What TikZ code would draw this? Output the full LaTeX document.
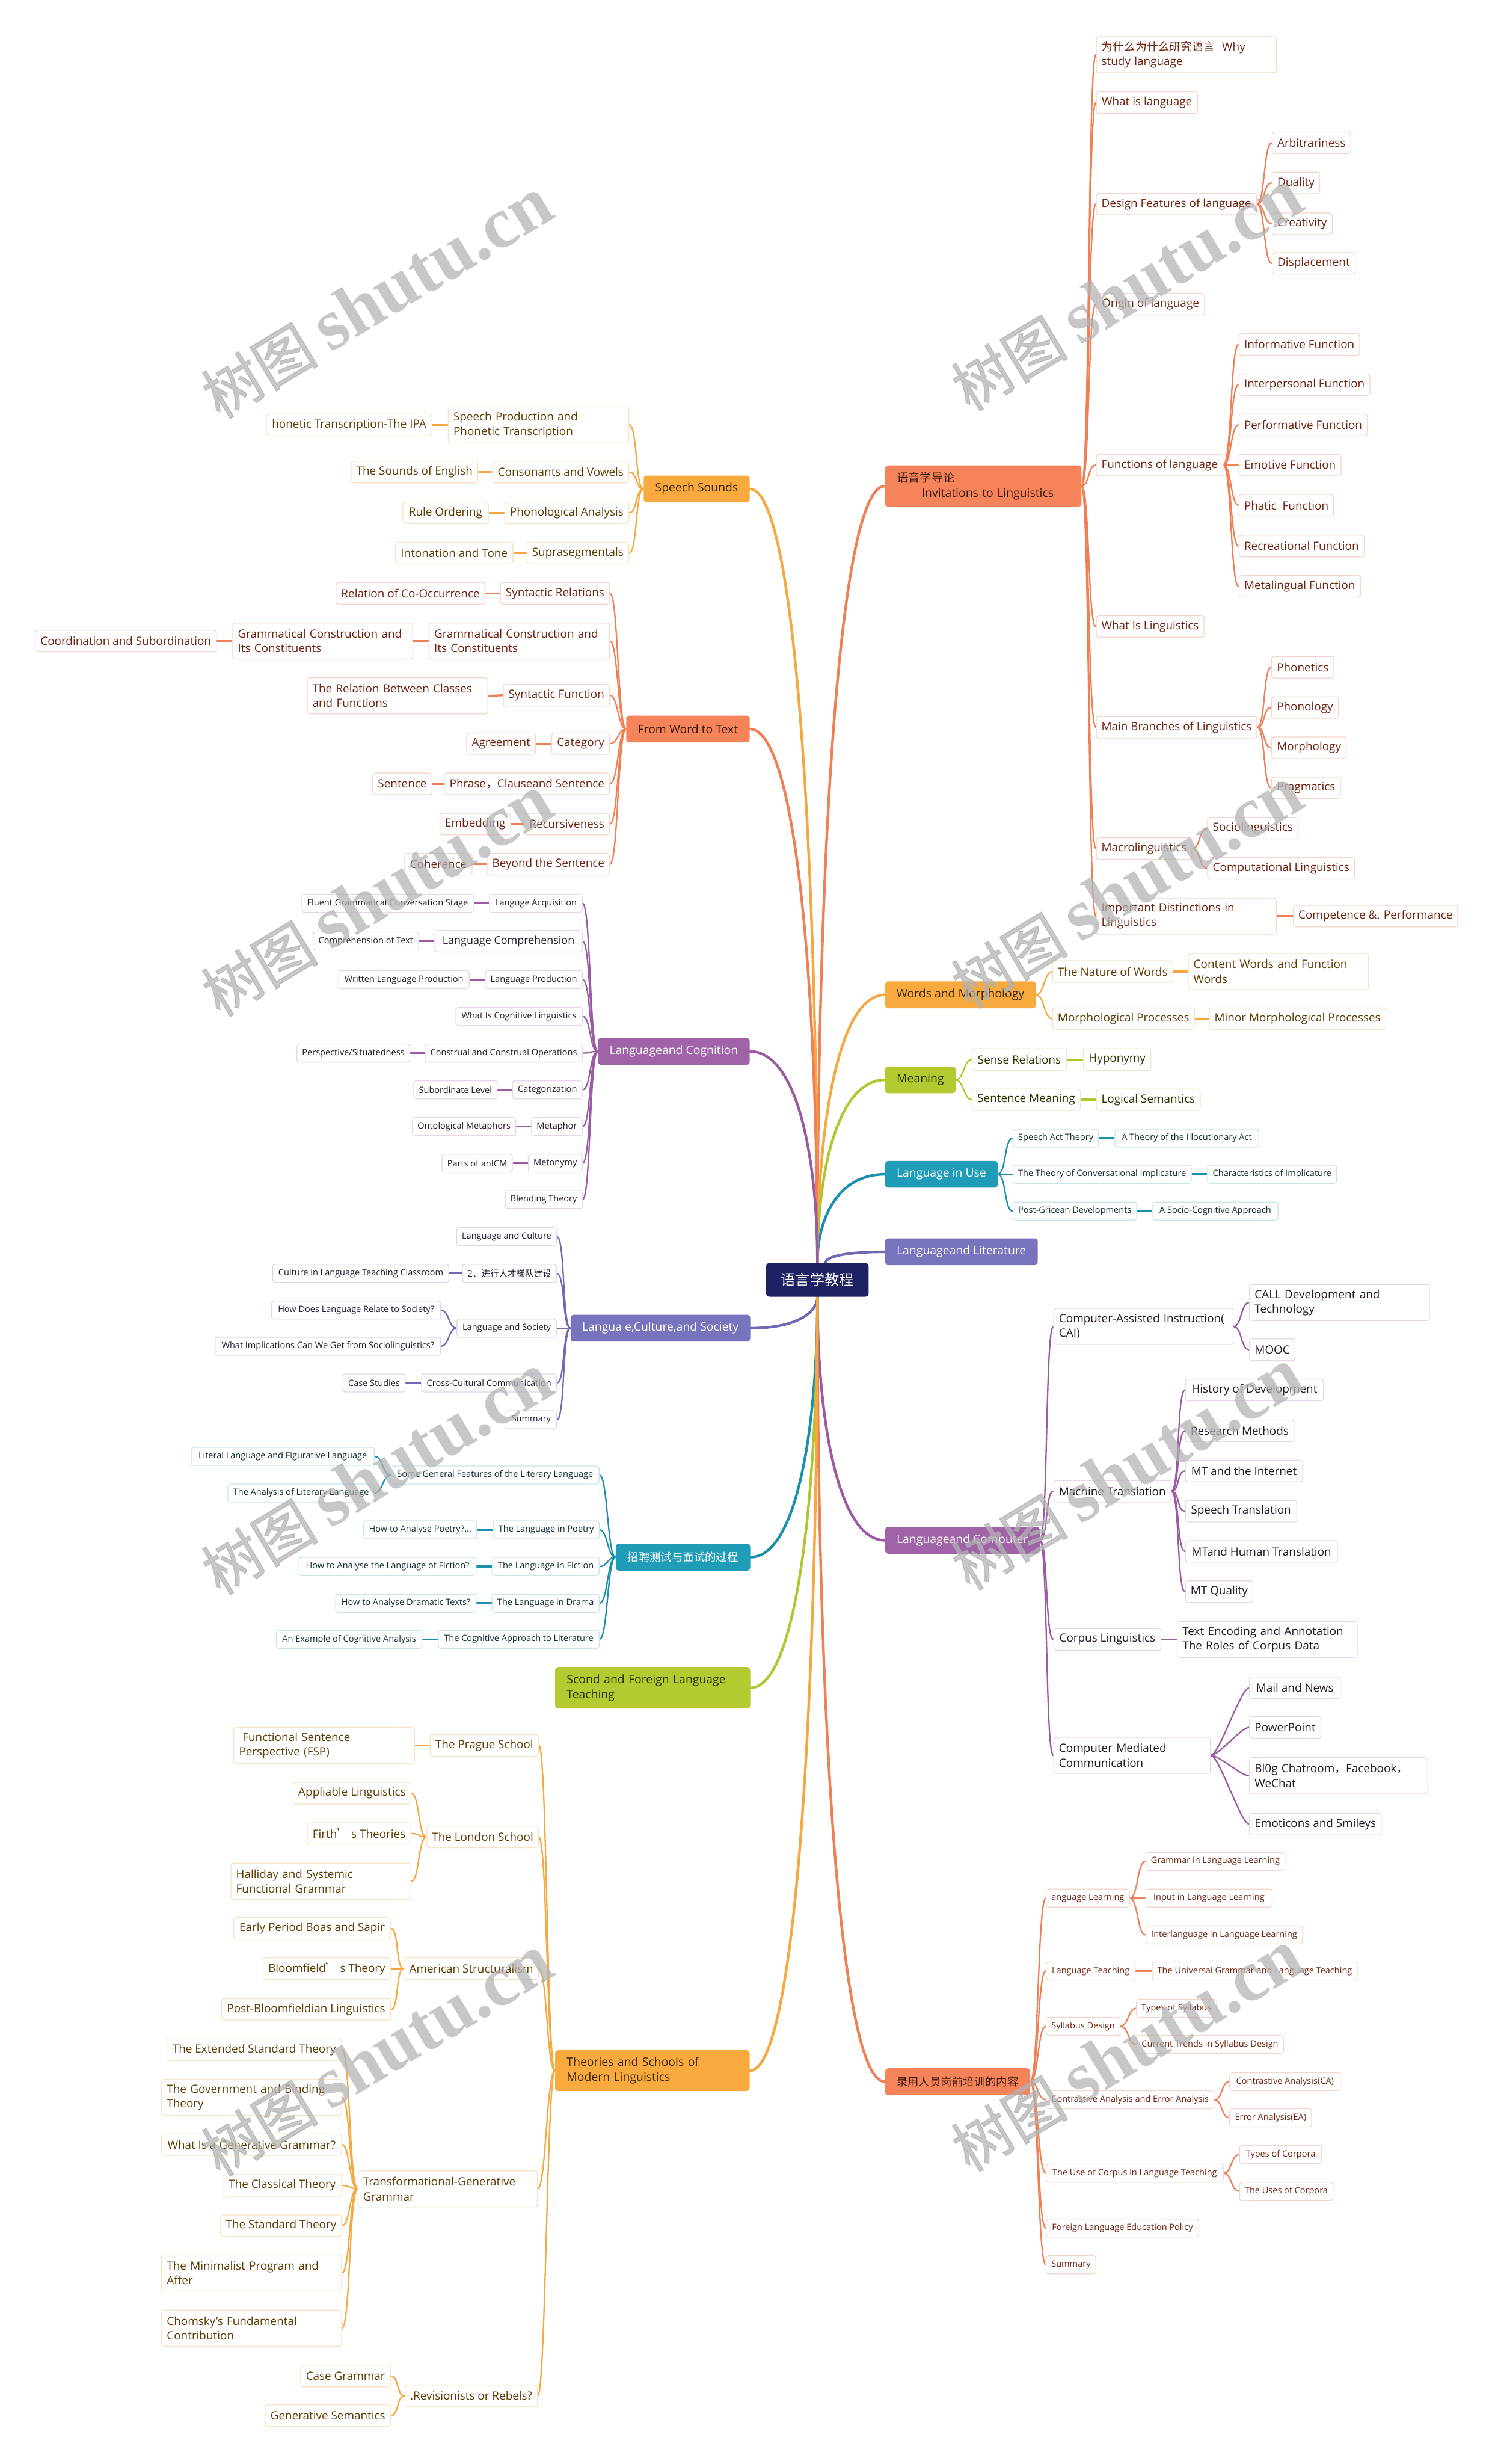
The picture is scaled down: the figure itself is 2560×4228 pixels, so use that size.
\documentclass[tikz,border=0pt]{standalone}
\usepackage{fontspec}
\setmainfont{Open Sans}
\newfontfamily\cjk{Noto Sans CJK SC}
\newfontfamily\cjkwm[FakeBold=1.5]{Noto Sans CJK SC}
\newfontfamily\wmserif{Liberation Serif}
\definecolor{cRoot}{HTML}{1E2163}
\definecolor{cCor}{HTML}{F5845B}\definecolor{cCorL}{HTML}{EF7F55}\definecolor{cCorB}{HTML}{F6D6CA}\definecolor{cCorT}{HTML}{6E2410}\definecolor{cCorD}{HTML}{3A1608}
\definecolor{cOr}{HTML}{F9AA3E}\definecolor{cOrL}{HTML}{F4A83F}\definecolor{cOrB}{HTML}{F8E3C4}\definecolor{cOrT}{HTML}{5E3C05}\definecolor{cOrD}{HTML}{3A2605}
\definecolor{cGr}{HTML}{B5C930}\definecolor{cGrL}{HTML}{B1C630}\definecolor{cGrB}{HTML}{E4EAC4}\definecolor{cGrT}{HTML}{2F3300}\definecolor{cGrD}{HTML}{2A3000}
\definecolor{cTe}{HTML}{1E9CB8}\definecolor{cTeL}{HTML}{1B8FAE}\definecolor{cTeB}{HTML}{C9E5EE}\definecolor{cTeT}{HTML}{102A34}
\definecolor{cPe}{HTML}{7873BD}\definecolor{cPeL}{HTML}{6F69B3}\definecolor{cPeB}{HTML}{DAD8EE}\definecolor{cPeT}{HTML}{1E1E36}
\definecolor{cPu}{HTML}{A063A8}\definecolor{cPuL}{HTML}{9C5AA3}\definecolor{cPuB}{HTML}{E7D6E9}\definecolor{cPuT}{HTML}{26182A}
\pgfdeclarelayer{back}\pgfdeclarelayer{front}\pgfsetlayers{back,main,front}
\newcommand\nodeR[6]{\node[#1,anchor=west,minimum width=#5pt] (#2) at (#3,#4) {#6};}
\newcommand\nodeL[6]{\node[#1,anchor=east,minimum width=#5pt] (#2) at (#3,#4) {#6};}
\newcommand\nodeRm[6]{\node[#1,anchor=west,text width=#5pt] (#2) at (#3,#4) {#6};}
\newcommand\nodeLm[6]{\node[#1,anchor=east,text width=#5pt] (#2) at (#3,#4) {#6};}
\newcommand\lkR[3]{\draw[#1,lw] (#2.east) .. controls +(14,0) and +(-14,0) .. (#3.west);}
\newcommand\lkL[3]{\draw[#1,lw] (#2.west) .. controls +(-14,0) and +(14,0) .. (#3.east);}
\newcommand\stR[3]{\draw[#1,lws] (#2.east) -- (#3.west);}
\newcommand\stL[3]{\draw[#1,lws] (#2.west) -- (#3.east);}
\tikzset{
  bx/.style={rounded corners=4pt, fill=white, line width=1.3pt, inner xsep=9pt, inner ysep=0pt, align=left},
  bg/.style={bx, font=\fontsize{19.5}{25}\selectfont, minimum height=37pt},
  bgtwo/.style={bx, font=\fontsize{19.5}{25}\selectfont, minimum height=62pt},
  sm/.style={bx, font=\fontsize{15}{19}\selectfont, minimum height=31pt},
  mn/.style={rounded corners=5pt, inner xsep=20pt, inner ysep=0pt, minimum height=46pt, font=\fontsize{20}{26}\selectfont, align=left},
  kCor/.style={draw=cCorB, text=cCorT}, kOr/.style={draw=cOrB, text=cOrT}, kGr/.style={draw=cGrB, text=cGrT},
  kTe/.style={draw=cTeB, text=cTeT}, kPe/.style={draw=cPeB, text=cPeT}, kPu/.style={draw=cPuB, text=cPuT},
  lw/.style={line width=2.4pt, line cap=round}, lws/.style={line width=3.4pt}, lwm/.style={line width=4.5pt, line cap=round},
  wm/.style={rotate=31, text=black!30, text opacity=0.72, inner sep=0pt}
}
\begin{document}
\begin{tikzpicture}[x=1pt,y=-1pt]
\begin{pgfonlayer}{back}
\fill[white] (0,0) rectangle (2560,4228);
\end{pgfonlayer}
\useasboundingbox (0,0) rectangle (2560,4228);
% root
\node[fill=cRoot, text=white, rounded corners=6pt, minimum width=176pt, minimum height=58pt, inner sep=0pt, font=\cjk\fontsize{25}{30}\selectfont] (root) at (1403,2196) {语言学教程};
% ===== main branches =====
\node[mn, fill=cCor, text=cCorD, anchor=west, text width=297pt, minimum height=71pt] (A) at (1519,834) {{\cjk 语音学导论}\\\hspace*{43pt}Invitations to Linguistics};
\node[mn, fill=cOr, text=cOrD, anchor=west, minimum width=258pt] (B) at (1519,1707) {Words and Morphology};
\node[mn, fill=cGr, text=cGrD, anchor=west, minimum width=121pt] (C) at (1519,1853) {Meaning};
\node[mn, fill=cTe, text=white, anchor=west, minimum width=191pt] (D) at (1519,2015) {Language in Use};
\node[mn, fill=cPe, text=white, anchor=west, minimum width=255pt] (E) at (1519,2148) {Languageand Literature};
\node[mn, fill=cPu, text=white, anchor=west, minimum width=260pt] (F) at (1519,2643) {Languageand Computer};
\node[mn, fill=cCor, text=cCorD, anchor=west, minimum width=248pt, font=\cjk\fontsize{19}{24}\selectfont] (G) at (1519,3572) {录用人员岗前培训的内容};
\node[mn, fill=cOr, text=cOrD, anchor=east, minimum width=180pt] (H) at (1287,839) {Speech Sounds};
\node[mn, fill=cCor, text=cCorD, anchor=east, minimum width=212pt] (I) at (1287,1251) {From Word to Text};
\node[mn, fill=cPu, text=white, anchor=east, minimum width=258pt] (J) at (1287,1804) {Languageand Cognition};
\node[mn, fill=cPe, text=white, anchor=east, minimum width=304pt] (K) at (1288,2279) {Langua e,Culture,and Society};
\node[mn, fill=cTe, text=white, anchor=east, minimum width=231pt, font=\cjk\fontsize{19}{24}\selectfont] (L) at (1288,2672) {招聘测试与面试的过程};
\node[mn, fill=cGr, text=cGrD, anchor=east, text width=295pt, minimum height=71pt] (M) at (1288,2896) {Scond and Foreign Language\\Teaching};
\node[mn, fill=cOr, text=cOrD, anchor=east, text width=294pt, minimum height=70pt] (N) at (1287,3553) {Theories and Schools of\\Modern Linguistics};
% ===== A =====
\nodeRm{bgtwo,kCor}{a1}{1881}{94}{291}{{\cjk 为什么为什么研究语言}\hspace{12pt}Why\\study language}
\nodeR{bg,kCor}{a2}{1881}{176}{174}{What is language}
\nodeR{bg,kCor}{a3}{1881}{350}{275}{Design Features of language}
\nodeR{bg,kCor}{a3a}{2183}{245}{131}{Arbitrariness}
\nodeR{bg,kCor}{a3b}{2183}{314}{80}{Duality}
\nodeR{bg,kCor}{a3c}{2183}{384}{101}{Creativity}
\nodeR{bg,kCor}{a3d}{2183}{452}{139}{Displacement}
\nodeR{bg,kCor}{a4}{1881}{522}{186}{Origin of language}
\nodeR{bg,kCor}{a5}{1881}{798}{217}{Functions of language}
\nodeR{bg,kCor}{a5a}{2126}{591}{204}{Informative Function}
\nodeR{bg,kCor}{a5b}{2126}{660}{220}{Interpersonal Function}
\nodeR{bg,kCor}{a5c}{2126}{729}{216}{Performative Function}
\nodeR{bg,kCor}{a5d}{2126}{798}{173}{Emotive Function}
\nodeR{bg,kCor}{a5e}{2126}{867}{161}{Phatic\ \ Function}
\nodeR{bg,kCor}{a5f}{2126}{937}{212}{Recreational Function}
\nodeR{bg,kCor}{a5g}{2126}{1006}{208}{Metalingual Function}
\nodeR{bg,kCor}{a6}{1881}{1075}{184}{What Is Linguistics}
\nodeR{bg,kCor}{a7}{1881}{1248}{272}{Main Branches of Linguistics}
\nodeR{bg,kCor}{a7a}{2182}{1145}{104}{Phonetics}
\nodeR{bg,kCor}{a7b}{2182}{1214}{114}{Phonology}
\nodeR{bg,kCor}{a7c}{2182}{1283}{128}{Morphology}
\nodeR{bg,kCor}{a7d}{2182}{1352}{115}{Pragmatics}
\nodeR{bg,kCor}{a8}{1881}{1456}{163}{Macrolinguistics}
\nodeR{bg,kCor}{a8a}{2072}{1421}{155}{Sociolinguistics}
\nodeR{bg,kCor}{a8b}{2072}{1490}{250}{Computational Linguistics}
\nodeRm{bgtwo,kCor}{a9}{1881}{1572}{291}{Important Distinctions in\\Linguistics}
\nodeR{bg,kCor}{a9a}{2219}{1572}{278}{Competence \&. Performance}
% ===== B =====
\nodeR{bg,kOr}{b1}{1806}{1667}{204}{The Nature of Words}
\nodeRm{bgtwo,kOr}{b1a}{2039}{1667}{291}{Content Words and Function\\Words}
\nodeR{bg,kOr}{b2}{1806}{1748}{240}{Morphological Processes}
\nodeR{bg,kOr}{b2a}{2075}{1748}{301}{Minor Morphological Processes}
% ===== C =====
\nodeR{bg,kGr}{c1}{1668}{1818}{162}{Sense Relations}
\nodeR{bg,kGr}{c1a}{1859}{1818}{112}{Hyponymy}
\nodeR{bg,kGr}{c2}{1668}{1887}{184}{Sentence Meaning}
\nodeR{bg,kGr}{c2a}{1881}{1887}{175}{Logical Semantics}
% ===== D =====
\nodeR{sm,kTe}{d1}{1738}{1953}{147}{Speech Act Theory}
\nodeR{sm,kTe}{d1a}{1913}{1953}{247}{A Theory of the Illocutionary Act}
\nodeR{sm,kTe}{d2}{1738}{2015}{305}{The Theory of Conversational Implicature}
\nodeR{sm,kTe}{d2a}{2072}{2015}{219}{Characteristics of Implicature}
\nodeR{sm,kTe}{d3}{1738}{2078}{212}{Post-Gricean Developments}
\nodeR{sm,kTe}{d3a}{1978}{2078}{215}{A Socio-Cognitive Approach}
% ===== F =====
\nodeRm{bgtwo,kPu}{f1}{1808}{2276}{290}{Computer-Assisted Instruction(\\CAI)}
\nodeRm{bgtwo,kPu}{f1a}{2144}{2235}{291}{CALL Development and\\Technology}
\nodeR{bg,kPu}{f1b}{2144}{2316}{78}{MOOC}
\nodeR{bg,kPu}{f2}{1808}{2559}{198}{Machine Translation}
\nodeR{bg,kPu}{f2a}{2034}{2385}{237}{History of Development}
\nodeR{bg,kPu}{f2b}{2034}{2455}{183}{Research Methods}
\nodeR{bg,kPu}{f2c}{2034}{2524}{201}{MT and the Internet}
\nodeR{bg,kPu}{f2d}{2034}{2593}{191}{Speech Translation}
\nodeR{bg,kPu}{f2e}{2034}{2662}{261}{MTand Human Translation}
\nodeR{bg,kPu}{f2f}{2034}{2731}{115}{MT Quality}
\nodeR{bg,kPu}{f3}{1808}{2813}{184}{Corpus Linguistics}
\nodeRm{bgtwo,kPu}{f3a}{2020}{2813}{291}{Text Encoding and Annotation\\The Roles of Corpus Data}
\nodeRm{bgtwo,kPu}{f4}{1808}{3012}{251}{Computer Mediated\\Communication}
\nodeR{bg,kPu}{f4a}{2144}{2896}{156}{Mail and News}
\nodeR{bg,kPu}{f4b}{2144}{2964}{120}{PowerPoint}
\nodeRm{bgtwo,kPu}{f4c}{2144}{3047}{288}{Bl0g Chatroom{\cjk ，}Facebook{\cjk ，}\\WeChat}
\nodeR{bg,kPu}{f4d}{2144}{3130}{224}{Emoticons and Smileys}
% ===== G =====
\nodeR{sm,kCor}{g1}{1795}{3257}{143}{anguage Learning}
\nodeR{sm,kCor}{g1a}{1966}{3194}{237}{Grammar in Language Learning}
\nodeR{sm,kCor}{g1b}{1966}{3257}{217}{Input in Language Learning}
\nodeR{sm,kCor}{g1c}{1966}{3320}{269}{Interlanguage in Language Learning}
\nodeR{sm,kCor}{g2}{1795}{3382}{153}{Language Teaching}
\nodeR{sm,kCor}{g2a}{1977}{3382}{351}{The Universal Grammar and Language Teaching}
\nodeR{sm,kCor}{g3}{1795}{3477}{126}{Syllabus Design}
\nodeR{sm,kCor}{g3a}{1950}{3446}{136}{Types of Syllabus}
\nodeR{sm,kCor}{g3b}{1950}{3508}{252}{Current Trends in Syllabus Design}
\nodeR{sm,kCor}{g4}{1795}{3603}{286}{Contrastive Analysis and Error Analysis}
\nodeR{sm,kCor}{g4a}{2110}{3572}{190}{Contrastive Analysis(CA)}
\nodeR{sm,kCor}{g4b}{2110}{3634}{139}{Error Analysis(EA)}
\nodeR{sm,kCor}{g5}{1795}{3729}{304}{The Use of Corpus in Language Teaching}
\nodeR{sm,kCor}{g5a}{2127}{3697}{141}{Types of Corpora}
\nodeR{sm,kCor}{g5b}{2127}{3760}{159}{The Uses of Corpora}
\nodeR{sm,kCor}{g6}{1795}{3823}{262}{Foreign Language Education Policy}
\nodeR{sm,kCor}{g7}{1795}{3886}{82}{Summary}
% ===== H =====
\nodeLm{bgtwo,kOr}{h1}{1080}{729}{292}{Speech Production and\\Phonetic Transcription}
\nodeL{bg,kOr}{h1a}{742}{729}{284}{honetic Transcription-The IPA}
\nodeL{bg,kOr}{h2}{1080}{810}{232}{Consonants and Vowels}
\nodeL{bg,kOr}{h2a}{821}{810}{217}{The Sounds of English}
\nodeL{bg,kOr}{h3}{1080}{880}{212}{Phonological Analysis}
\nodeL{bg,kOr}{h3a}{839}{880}{147}{Rule Ordering}
\nodeL{bg,kOr}{h4}{1080}{949}{171}{Suprasegmentals}
\nodeL{bg,kOr}{h4a}{881}{949}{199}{Intonation and Tone}
% ===== I =====
\nodeL{bg,kCor}{i1}{1047}{1018}{186}{Syntactic Relations}
\nodeL{bg,kCor}{i1a}{833}{1018}{255}{Relation of Co-Occurrence}
\nodeLm{bgtwo,kCor}{i2}{1047}{1100}{292}{Grammatical Construction and\\Its Constituents}
\nodeLm{bgtwo,kCor}{i2a}{709}{1100}{291}{Grammatical Construction and\\Its Constituents}
\nodeL{bg,kCor}{i2b}{372}{1100}{310}{Coordination and Subordination}
\nodeL{bg,kCor}{i3}{1047}{1193}{181}{Syntactic Function}
\nodeLm{bgtwo,kCor}{i3a}{838}{1194}{292}{The Relation Between Classes\\and Functions}
\nodeL{bg,kCor}{i4}{1047}{1276}{98}{Category}
\nodeL{bg,kCor}{i4a}{920}{1276}{117}{Agreement}
\nodeL{bg,kCor}{i5}{1047}{1345}{277}{Phrase{\cjk ，}Clauseand Sentence}
\nodeL{bg,kCor}{i5a}{742}{1345}{98}{Sentence}
\nodeL{bg,kCor}{i6}{1047}{1414}{142}{Recursiveness}
\nodeL{bg,kCor}{i6a}{877}{1414}{120}{Embedding}
\nodeL{bg,kCor}{i7}{1047}{1483}{209}{Beyond the Sentence}
\nodeL{bg,kCor}{i7a}{811}{1483}{112}{Coherence}
% ===== J =====
\nodeL{sm,kPu}{j1}{1000}{1550}{159}{Languge Acquisition}
\nodeL{sm,kPu}{j1a}{813}{1550}{294}{Fluent Grammatical Conversation Stage}
\nodeL{sm,kPu,font=\fontsize{18.5}{23}\selectfont,minimum height=37pt}{j2}{1000}{1615}{253}{Language Comprehension}
\nodeL{sm,kPu}{j2a}{719}{1615}{181}{Comprehension of Text}
\nodeL{sm,kPu}{j3}{1000}{1681}{166}{Language Production}
\nodeL{sm,kPu}{j3a}{806}{1681}{224}{Written Language Production}
\nodeL{sm,kPu}{j4}{1000}{1744}{217}{What Is Cognitive Linguistics}
\nodeL{sm,kPu}{j5}{1000}{1807}{267}{Construal and Construal Operations}
\nodeL{sm,kPu}{j5a}{704}{1807}{190}{Perspective/Situatedness}
\nodeL{sm,kPu}{j6}{1000}{1870}{118}{Categorization}
\nodeL{sm,kPu}{j6a}{854}{1870}{142}{Subordinate Level}
\nodeL{sm,kPu}{j7}{1000}{1933}{85}{Metaphor}
\nodeL{sm,kPu}{j7a}{886}{1933}{177}{Ontological Metaphors}
\nodeL{sm,kPu}{j8}{1000}{1996}{91}{Metonymy}
\nodeL{sm,kPu}{j8a}{880}{1996}{119}{Parts of anICM}
\nodeL{sm,kPu}{j9}{1000}{2058}{129}{Blending Theory}
% ===== K =====
\nodeL{sm,kPe}{k1}{956}{2122}{171}{Language and Culture}
\nodeL{sm,kPe}{k2}{956}{2185}{156}{2{\cjk 、进行人才梯队建设}}
\nodeL{sm,kPe}{k2a}{771}{2185}{302}{Culture in Language Teaching Classroom}
\nodeL{sm,kPe}{k3}{956}{2279}{171}{Language and Society}
\nodeL{sm,kPe}{k3a}{757}{2248}{290}{How Does Language Relate to Society?}
\nodeL{sm,kPe}{k3b}{757}{2310}{387}{What Implications Can We Get from Sociolinguistics?}
\nodeL{sm,kPe}{k4}{956}{2373}{231}{Cross-Cultural Communication}
\nodeL{sm,kPe}{k4a}{696}{2373}{104}{Case Studies}
\nodeL{sm,kPe}{k5}{956}{2436}{87}{Summary}
% ===== L =====
\nodeL{sm,kTe}{l1}{1029}{2531}{357}{Some General Features of the Literary Language}
\nodeL{sm,kTe}{l1a}{643}{2499}{314}{Literal Language and Figurative Language}
\nodeL{sm,kTe}{l1b}{643}{2562}{251}{The Analysis of Literary Language}
\nodeL{sm,kTe}{l2}{1029}{2625}{181}{The Language in Poetry}
\nodeL{sm,kTe}{l2a}{819}{2625}{194}{How to Analyse Poetry?...}
\nodeL{sm,kTe}{l3}{1029}{2688}{183}{The Language in Fiction}
\nodeL{sm,kTe}{l3a}{818}{2688}{304}{How to Analyse the Language of Fiction?}
\nodeL{sm,kTe}{l4}{1029}{2751}{183}{The Language in Drama}
\nodeL{sm,kTe}{l4a}{818}{2751}{241}{How to Analyse Dramatic Texts?}
\nodeL{sm,kTe}{l5}{1029}{2813}{276}{The Cognitive Approach to Literature}
\nodeL{sm,kTe}{l5a}{725}{2813}{250}{An Example of Cognitive Analysis}
% ===== N =====
\nodeL{bg,kOr}{n1}{925}{2995}{185}{The Prague School}
\nodeLm{bgtwo,kOr}{n1a}{712}{2995}{292}{\hspace*{6pt}Functional Sentence\\Perspective (FSP)}
\nodeL{bg,kOr}{n2}{925}{3152}{191}{The London School}
\nodeL{bg,kOr}{n2a}{706}{3077}{201}{Appliable Linguistics}
\nodeL{bg,kOr}{n2b}{706}{3146}{178}{Firth{\cjk ’}\ s Theories}
\nodeLm{bgtwo,kOr}{n2c}{706}{3228}{291}{Halliday and Systemic\\Functional Grammar}
\nodeL{bg,kOr}{n3}{925}{3378}{226}{American Structuralism}
\nodeL{bg,kOr}{n3a}{671}{3309}{269}{Early Period Boas and Sapir}
\nodeL{bg,kOr}{n3b}{671}{3378}{215}{Bloomfield{\cjk ’}\ s Theory}
\nodeL{bg,kOr}{n3c}{671}{3448}{288}{Post-Bloomfieldian Linguistics}
\nodeLm{bgtwo,kOr}{n4}{923}{3756}{290}{Transformational-Generative\\Grammar}
\nodeL{bg,kOr}{n4a}{587}{3517}{300}{The Extended Standard Theory}
\nodeLm{bgtwo,kOr}{n4b}{587}{3599}{291}{The Government and Binding\\Theory}
\nodeL{bg,kOr}{n4c}{587}{3680}{309}{What Is a Generative Grammar?}
\nodeL{bg,kOr}{n4d}{587}{3750}{204}{The Classical Theory}
\nodeL{bg,kOr}{n4e}{587}{3819}{204}{The Standard Theory}
\nodeLm{bgtwo,kOr}{n4f}{587}{3900}{291}{The Minimalist Program and\\After}
\nodeLm{bgtwo,kOr}{n4g}{587}{3995}{291}{Chomsky's Fundamental\\Contribution}
\nodeL{bg,kOr}{n5}{923}{4111}{223}{.Revisionists or Rebels?}
\nodeL{bg,kOr}{n5a}{671}{4077}{152}{Case Grammar}
\nodeL{bg,kOr}{n5b}{671}{4145}{208}{Generative Semantics}
% ===== connectors =====
\begin{pgfonlayer}{back}
% root links
\draw[cCorL,lwm] (root.north) .. controls (1403,1500) and (1438,834) .. (A.west);
\draw[cOrL,lwm] (root.north) .. controls (1403,1937) and (1438,1707) .. (B.west);
\draw[cGrL,lwm] (root.north) .. controls (1403,2010) and (1438,1853) .. (C.west);
\draw[cTeL,lwm] (root.north) .. controls (1403,2091) and (1438,2015) .. (D.west);
\draw[cPeL,lwm] ([xshift=14pt]root.north) .. controls (1417,2157) and (1448,2148) .. (E.west);
\draw[cPuL,lwm] (root.south) .. controls (1403,2434) and (1438,2643) .. (F.west);
\draw[cCorL,lwm] (root.south) .. controls (1403,2898) and (1438,3572) .. (G.west);
\draw[cOrL,lwm] (root.north) .. controls (1403,1503) and (1368,839) .. (H.east);
\draw[cCorL,lwm] (root.north) .. controls (1403,1709) and (1368,1251) .. (I.east);
\draw[cPuL,lwm] (root.north) .. controls (1403,1985) and (1368,1804) .. (J.east);
\draw[cPeL,lwm] (root.south) .. controls (1403,2252) and (1368,2279) .. (K.east);
\draw[cTeL,lwm] (root.south) .. controls (1403,2448) and (1368,2672) .. (L.east);
\draw[cGrL,lwm] (root.south) .. controls (1403,2560) and (1368,2896) .. (M.east);
\draw[cOrL,lwm] (root.south) .. controls (1403,2889) and (1368,3553) .. (N.east);
% A
\foreach \c in {a1,a2,a3,a4,a5,a6,a7,a8,a9} {\lkR{cCorL}{A}{\c}}
\foreach \c in {a3a,a3b,a3c,a3d} {\lkR{cCorL}{a3}{\c}}
\foreach \c in {a5a,a5b,a5c,a5d,a5e,a5f,a5g} {\lkR{cCorL}{a5}{\c}}
\foreach \c in {a7a,a7b,a7c,a7d} {\lkR{cCorL}{a7}{\c}}
\foreach \c in {a8a,a8b} {\lkR{cCorL}{a8}{\c}}
\stR{cCorL}{a9}{a9a}
% B C D
\lkR{cOrL}{B}{b1}\lkR{cOrL}{B}{b2}\stR{cOrL}{b1}{b1a}\stR{cOrL}{b2}{b2a}
\lkR{cGrL}{C}{c1}\lkR{cGrL}{C}{c2}\stR{cGrL}{c1}{c1a}\stR{cGrL}{c2}{c2a}
\lkR{cTeL}{D}{d1}\lkR{cTeL}{D}{d2}\lkR{cTeL}{D}{d3}\stR{cTeL}{d1}{d1a}\stR{cTeL}{d2}{d2a}\stR{cTeL}{d3}{d3a}
% F
\foreach \c in {f1,f2,f3,f4} {\lkR{cPuL}{F}{\c}}
\lkR{cPuL}{f1}{f1a}\lkR{cPuL}{f1}{f1b}
\foreach \c in {f2a,f2b,f2c,f2d,f2e,f2f} {\lkR{cPuL}{f2}{\c}}
\stR{cPuL}{f3}{f3a}
\foreach \c in {f4a,f4b,f4c,f4d} {\lkR{cPuL}{f4}{\c}}
% G
\foreach \c in {g1,g2,g3,g4,g5,g6,g7} {\lkR{cCorL}{G}{\c}}
\foreach \c in {g1a,g1b,g1c} {\lkR{cCorL}{g1}{\c}}
\stR{cCorL}{g2}{g2a}
\lkR{cCorL}{g3}{g3a}\lkR{cCorL}{g3}{g3b}
\lkR{cCorL}{g4}{g4a}\lkR{cCorL}{g4}{g4b}
\lkR{cCorL}{g5}{g5a}\lkR{cCorL}{g5}{g5b}
% H
\foreach \c in {h1,h2,h3,h4} {\lkL{cOrL}{H}{\c}}
\stL{cOrL}{h1}{h1a}\stL{cOrL}{h2}{h2a}\stL{cOrL}{h3}{h3a}\stL{cOrL}{h4}{h4a}
% I
\foreach \c in {i1,i2,i3,i4,i5,i6,i7} {\lkL{cCorL}{I}{\c}}
\stL{cCorL}{i1}{i1a}\stL{cCorL}{i2}{i2a}\stL{cCorL}{i2a}{i2b}\stL{cCorL}{i3}{i3a}
\stL{cCorL}{i4}{i4a}\stL{cCorL}{i5}{i5a}\stL{cCorL}{i6}{i6a}\stL{cCorL}{i7}{i7a}
% J
\foreach \c in {j1,j2,j3,j4,j5,j6,j7,j8,j9} {\lkL{cPuL}{J}{\c}}
\stL{cPuL}{j1}{j1a}\stL{cPuL}{j2}{j2a}\stL{cPuL}{j3}{j3a}\stL{cPuL}{j5}{j5a}
\stL{cPuL}{j6}{j6a}\stL{cPuL}{j7}{j7a}\stL{cPuL}{j8}{j8a}
% K
\foreach \c in {k1,k2,k3,k4,k5} {\lkL{cPeL}{K}{\c}}
\stL{cPeL}{k2}{k2a}\lkL{cPeL}{k3}{k3a}\lkL{cPeL}{k3}{k3b}\stL{cPeL}{k4}{k4a}
% L
\foreach \c in {l1,l2,l3,l4,l5} {\lkL{cTeL}{L}{\c}}
\lkL{cTeL}{l1}{l1a}\lkL{cTeL}{l1}{l1b}
\stL{cTeL}{l2}{l2a}\stL{cTeL}{l3}{l3a}\stL{cTeL}{l4}{l4a}\stL{cTeL}{l5}{l5a}
% N
\foreach \c in {n1,n2,n3,n4,n5} {\lkL{cOrL}{N}{\c}}
\stL{cOrL}{n1}{n1a}
\foreach \c in {n2a,n2b,n2c} {\lkL{cOrL}{n2}{\c}}
\foreach \c in {n3a,n3b,n3c} {\lkL{cOrL}{n3}{\c}}
\foreach \c in {n4a,n4b,n4c,n4d,n4e,n4f,n4g} {\lkL{cOrL}{n4}{\c}}
\foreach \c in {n5a,n5b} {\lkL{cOrL}{n5}{\c}}
\end{pgfonlayer}
% watermarks
\begin{pgfonlayer}{front}
\foreach \i/\x/\y in {1/647/512,2/1934/499,3/647/1538,4/1934/1524,5/647/2530,6/1934/2522,7/647/3528,8/1934/3520}
  {\node[wm] (wm\i) at (\x,\y) {{\cjkwm\fontsize{100}{100}\selectfont 树图}\hspace{22pt}{\wmserif\bfseries\fontsize{125}{125}\selectfont shutu.cn}};}
\end{pgfonlayer}
\end{tikzpicture}
\end{document}
